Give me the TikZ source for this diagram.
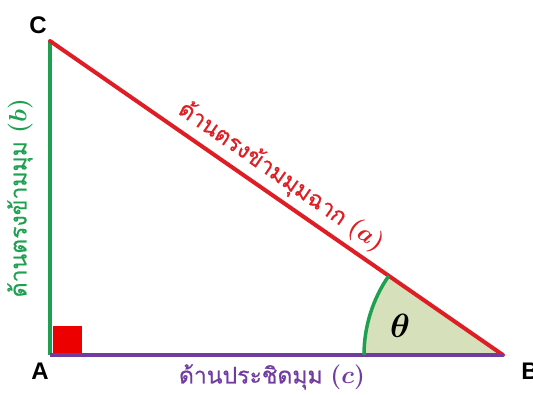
\documentclass[tikz,border=0pt]{standalone}
\usepackage{bm}
\usepackage{fontspec}
\setmainfont{Liberation Sans}
\newfontfamily\thaifont[Script=Thai,FakeBold=0.6]{Loma}
\usetikzlibrary{calc}
\definecolor{hypred}{RGB}{222,30,36}
\definecolor{oppgreen}{RGB}{30,160,80}
\definecolor{adjpurple}{RGB}{112,60,160}
\definecolor{anglefill}{RGB}{214,224,186}
\definecolor{sqred}{RGB}{236,0,0}
\tikzset{
  side/.style={line width=4pt},
  vlabel/.style={font=\bfseries\fontsize{24}{26}\selectfont, text=black},
  thailabel/.style={font=\thaifont\fontsize{23}{26}\selectfont, inner sep=0pt},
}
\begin{document}
\begin{tikzpicture}[x=1pt,y=-1pt]
\useasboundingbox (0,0) rectangle (533,394);
\coordinate (A) at (50,355);
\coordinate (B) at (503,355);
\coordinate (C) at (50,41);
% angle sector
\fill[anglefill] (B) -- ++(180:139) arc[start angle=180, end angle=214.7, radius=139] -- cycle;
% right angle square
\fill[sqred] (53,326) rectangle (82,353);
% sides
\draw[side, oppgreen] (A) -- (C);
\draw[side, hypred, line cap=round] (C) -- (B);
\draw[side, adjpurple] (A) -- (B);
% angle arc
\draw[line width=3.5pt, oppgreen] ($(B)+(180:139)$) arc[start angle=180, end angle=214.7, radius=139];
\node[font=\fontsize{24.88}{27}\selectfont, inner sep=0pt] (theta) at (400,326) {\scalebox{1.35}{$\bm{\theta}$}};
% vertex labels
\node[vlabel] (lc) at (38,25) {C};
\node[vlabel] (la) at (40,371) {A};
\node[vlabel] (lb) at (530,371) {B};
% side labels
\node[thailabel, text=adjpurple] (lab_c) at (272,377) {ด้านประชิดมุม $\bm{(c)}$};
\node[thailabel, text=oppgreen, rotate=90] (lab_b) at (20,198) {ด้านตรงข้ามมุม $\bm{(b)}$};
\node[thailabel, text=hypred, rotate=-34.7] (lab_a) at (281,177) {ด้านตรงข้ามมุมฉาก $\bm{(a)}$};
\end{tikzpicture}
\end{document}
